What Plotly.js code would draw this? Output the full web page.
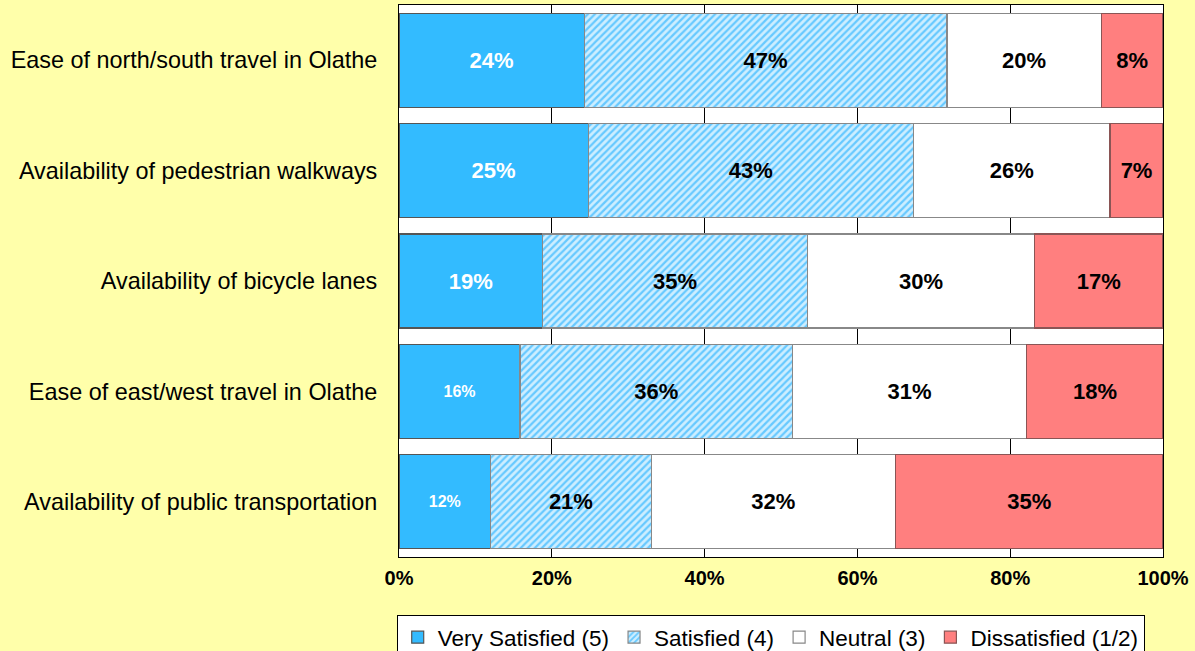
<!DOCTYPE html>
<html>
<head>
<meta charset="utf-8">
<script src="https://cdn.plot.ly/plotly-3.0.1.min.js"></script>
<style>
  html, body { margin: 0; padding: 0; background: #FFFFAA; }
  #chart { width: 1195px; height: 651px; }
</style>
</head>
<body>
<div id="chart"></div>
<script>
const categories = [
  "Ease of north/south travel in Olathe",
  "Availability of pedestrian walkways",
  "Availability of bicycle lanes",
  "Ease of east/west travel in Olathe",
  "Availability of public transportation"
];
const verySatisfied = [24, 25, 19, 16, 12];
const satisfied     = [47, 43, 35, 36, 21];
const neutral       = [20, 26, 30, 31, 32];
const dissatisfied  = [8, 7, 17, 18, 35];
const seriesNames = ["Very Satisfied (5)", "Satisfied (4)", "Neutral (3)", "Dissatisfied (1/2)"];
const xTickVals = [0, 20, 40, 60, 80, 100];
const xTickText = ["0%", "20%", "40%", "60%", "80%", "100%"];

const FONT = "Liberation Sans, Arial, sans-serif";
const pct = arr => arr.map(v => v + "%");

const traces = [
  {
    name: seriesNames[0], type: "bar", orientation: "h",
    y: categories, x: verySatisfied, text: pct(verySatisfied),
    marker: { color: "#33BBFF", line: { color: "#555555", width: 1.2 } },
    textfont: { color: "#FFFFFF", family: FONT, size: verySatisfied.map(v => v <= 16 ? 16 : 22), weight: "bold" }
  },
  {
    name: seriesNames[1], type: "bar", orientation: "h",
    y: categories, x: satisfied, text: pct(satisfied),
    marker: { color: "#cdeeff", line: { color: "#888888", width: 1.2 },
      pattern: { shape: "/", bgcolor: "#cdeeff", fgcolor: "#66c9ff", size: 5, solidity: 0.45 } },
    textfont: { color: "#000000", family: FONT, size: 22, weight: "bold" }
  },
  {
    name: seriesNames[2], type: "bar", orientation: "h",
    y: categories, x: neutral, text: pct(neutral),
    marker: { color: "#FFFFFF", line: { color: "#888888", width: 1.2 } },
    textfont: { color: "#000000", family: FONT, size: 22, weight: "bold" }
  },
  {
    name: seriesNames[3], type: "bar", orientation: "h",
    y: categories, x: dissatisfied, text: pct(dissatisfied),
    marker: { color: "#FF7F7F", line: { color: "#8a5555", width: 1.2 } },
    textfont: { color: "#000000", family: FONT, size: 22, weight: "bold" }
  }
];
traces.forEach(t => {
  t.textposition = "inside";
  t.insidetextanchor = "middle";
  t.constraintext = "none";
  t.hoverinfo = "name+x";
});

const layout = {
  width: 1195, height: 651,
  paper_bgcolor: "#FFFFAA",
  plot_bgcolor: "#FFFFFF",
  font: { family: FONT, color: "#000000" },
  margin: { l: 399, r: 32, t: 5, b: 94, pad: 0, autoexpand: false },
  barmode: "stack",
  barnorm: "percent",
  bargap: 0.15,
  showlegend: true,
  legend: {
    orientation: "h",
    x: -0.003, xanchor: "left",
    y: -0.1051, yanchor: "top",
    bgcolor: "#FFFFFF",
    bordercolor: "#000000", borderwidth: 1,
    font: { family: FONT, size: 22.5, color: "#000000" },
    traceorder: "normal",
    itemwidth: 30
  },
  xaxis: {
    range: [0, 100],
    tickvals: xTickVals, ticktext: xTickText,
    showgrid: true, gridcolor: "#000000", gridwidth: 1,
    zeroline: false,
    showline: true, linecolor: "#000000", linewidth: 1, mirror: true,
    ticks: "",
    tickfont: { family: FONT, size: 20, weight: "bold", color: "#000000" },
    ticklabelstandoff: 3,
    automargin: false,
    fixedrange: true
  },
  yaxis: {
    autorange: "reversed",
    type: "category",
    showgrid: false, zeroline: false,
    showline: true, linecolor: "#000000", linewidth: 1, mirror: true,
    ticks: "",
    ticklabelstandoff: 16,
    tickfont: { family: FONT, size: 23.4, color: "#000000" },
    automargin: false,
    fixedrange: true
  }
};

Plotly.newPlot("chart", traces, layout, { displayModeBar: false, staticPlot: true });
</script>
</body>
</html>
